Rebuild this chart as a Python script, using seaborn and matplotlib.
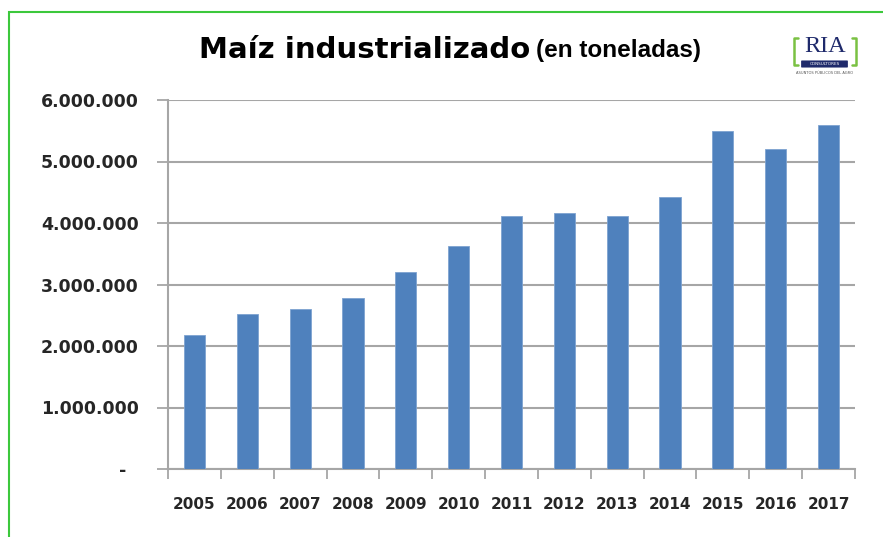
import matplotlib
matplotlib.use("Agg")
import matplotlib.pyplot as plt
from matplotlib.patches import Rectangle, FancyBboxPatch
from matplotlib.lines import Line2D
from matplotlib.ticker import FuncFormatter, FixedLocator
import numpy as np
import pandas as pd
import seaborn as sns

# Data
years = ["2005", "2006", "2007", "2008", "2009", "2010", "2011",
         "2012", "2013", "2014", "2015", "2016", "2017"]
toneladas = [2180000, 2520000, 2600000, 2780000, 3210000, 3630000, 4110000,
             4170000, 4110000, 4420000, 5500000, 5200000, 5590000]
y_ticks = [0, 1000000, 2000000, 3000000, 4000000, 5000000, 6000000]

BAR_COLOR = "#4F81BD"
GRID_COLOR = "#A6A6A6"
GREEN = "#3CC83C"
NAVY = "#1F2A6B"

sns.set_style("white")
plt.rcParams["font.family"] = ["DejaVu Sans"]

df = pd.DataFrame({"year": years, "toneladas": toneladas})

fig = plt.figure(figsize=(8.83, 5.37), dpi=100)
ax = fig.add_axes([168 / 883, 1 - 469 / 537, (855 - 168) / 883, (469 - 100) / 537])

sns.barplot(data=df, x="year", y="toneladas", color=BAR_COLOR, width=0.4,
            saturation=1, ax=ax, zorder=3)
for p in ax.patches:
    p.set_edgecolor("#7EA3D1")
    p.set_linewidth(0.6)

# y axis
ax.set_ylim(0, 6000000)
ax.yaxis.set_major_locator(FixedLocator(y_ticks))


def fmt_miles(v, pos):
    if v == 0:
        return "-  "
    return f"{int(v):,}".replace(",", ".")


ax.yaxis.set_major_formatter(FuncFormatter(fmt_miles))
ax.yaxis.grid(True, color=GRID_COLOR, linewidth=1.5, zorder=0)
ax.set_axisbelow(True)

# x axis: ticks between categories
ax.set_xlim(-0.5, len(years) - 0.5)
ax.set_xticks(np.arange(len(years)))
ax.set_xticks(np.arange(len(years) + 1) - 0.5, minor=True)
ax.tick_params(axis="x", which="major", length=0, pad=20)
ax.tick_params(axis="x", which="minor", length=7, width=1.3, color=GRID_COLOR,
               direction="out", bottom=True)
ax.tick_params(axis="y", length=8, width=1.3, color=GRID_COLOR, direction="out",
               left=True, pad=13)

for lab in ax.get_xticklabels():
    lab.set_fontsize(11)
    lab.set_fontweight("bold")
for lab in ax.get_yticklabels():
    lab.set_fontsize(12.5)
    lab.set_fontweight("bold")

ax.set_xlabel("")
ax.set_ylabel("")
for side in ["top", "right"]:
    ax.spines[side].set_visible(False)
for side in ["left", "bottom"]:
    ax.spines[side].set_color(GRID_COLOR)
    ax.spines[side].set_linewidth(1.5)

# title
fig.text(530 / 883, 1 - 50 / 537, "Maíz industrializado", ha="right", va="center",
         fontsize=21, fontweight="heavy", color="black")
fig.text(536 / 883, 1 - 50 / 537, "(en toneladas)", ha="left", va="center",
         fontsize=17.5, fontweight="bold", color="black", family="Liberation Sans")

# RIA logo
fig.text(825 / 883, 1 - 47 / 537, "RIA", ha="center", va="center", fontsize=17.5,
         color=NAVY, family="Liberation Serif")
for x0, sgn in [(794, 1), (856, -1)]:
    xs = [(x0 + sgn * 4) / 883, x0 / 883, x0 / 883, (x0 + sgn * 4) / 883]
    ys = [1 - 38 / 537, 1 - 38 / 537, 1 - 65 / 537, 1 - 65 / 537]
    fig.add_artist(Line2D(xs, ys, color="#7AC143", linewidth=1.8))
fig.add_artist(FancyBboxPatch((802 / 883, 1 - 67 / 537), 45 / 883, 6 / 537,
                              boxstyle="round,pad=0.001", transform=fig.transFigure,
                              facecolor=NAVY, edgecolor="none"))
fig.text(825 / 883, 1 - 64 / 537, "CONSULTORES", ha="center", va="center",
         fontsize=3, color="white")
fig.text(825 / 883, 1 - 73 / 537, "ASUNTOS PÚBLICOS DEL AGRO", ha="center",
         va="center", fontsize=2.6, color="#555555")

# green frame
fig.add_artist(Rectangle((8.5 / 883, -0.1), 1.2, 1.1 - 12 / 537, transform=fig.transFigure,
                         fill=False, edgecolor=GREEN, linewidth=1.5))

fig.savefig("out.png", dpi=100)
